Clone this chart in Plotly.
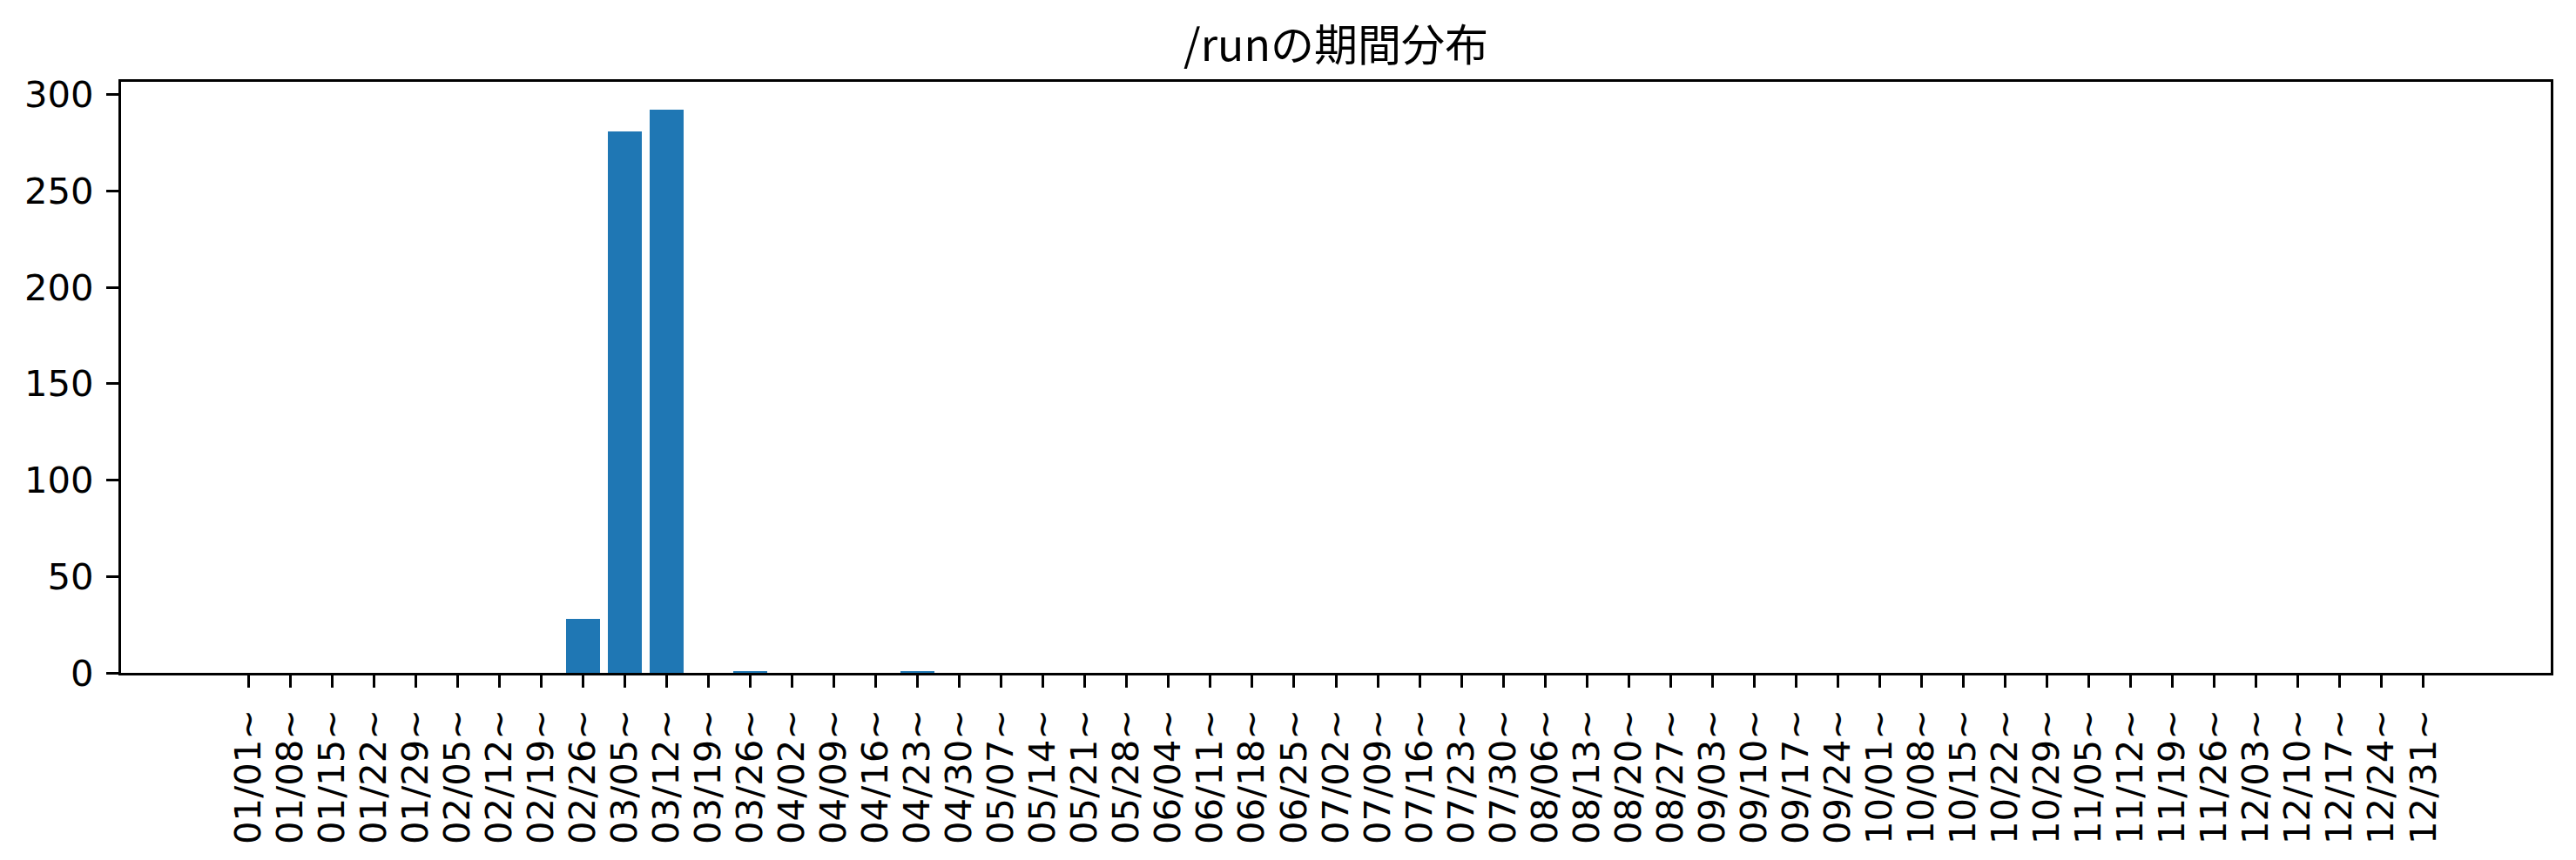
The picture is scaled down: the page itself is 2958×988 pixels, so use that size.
import plotly.graph_objects as go

week_labels = [
    "01/01~", "01/08~", "01/15~", "01/22~", "01/29~", "02/05~", "02/12~", "02/19~",
    "02/26~", "03/05~", "03/12~", "03/19~", "03/26~", "04/02~", "04/09~", "04/16~",
    "04/23~", "04/30~", "05/07~", "05/14~", "05/21~", "05/28~", "06/04~", "06/11~",
    "06/18~", "06/25~", "07/02~", "07/09~", "07/16~", "07/23~", "07/30~", "08/06~",
    "08/13~", "08/20~", "08/27~", "09/03~", "09/10~", "09/17~", "09/24~", "10/01~",
    "10/08~", "10/15~", "10/22~", "10/29~", "11/05~", "11/12~", "11/19~", "11/26~",
    "12/03~", "12/10~", "12/17~", "12/24~", "12/31~",
]
counts = [
    0, 0, 0, 0, 0, 0, 0, 0,
    28, 281, 292, 0, 1, 0, 0, 0,
    1, 0, 0, 0, 0, 0, 0, 0,
    0, 0, 0, 0, 0, 0, 0, 0,
    0, 0, 0, 0, 0, 0, 0, 0,
    0, 0, 0, 0, 0, 0, 0, 0,
    0, 0, 0, 0, 0,
]
y_ticks = [0, 50, 100, 150, 200, 250, 300]
title_text = "/runの期間分布"

W, H = 2958, 988
TICK_FONT = dict(family="DejaVu Sans", size=41.7, color="black")

fig = go.Figure(
    go.Bar(
        x=week_labels,
        y=counts,
        width=0.8,
        marker=dict(color="#1f77b4", line=dict(width=0)),
    )
)

n = len(week_labels)
pad = (n - 1 + 0.8) * 0.05
ymax = max(counts) * 1.05

fig.update_layout(
    width=W,
    height=H,
    margin=dict(l=139, r=29, t=94, b=215, pad=0),
    paper_bgcolor="white",
    plot_bgcolor="white",
    showlegend=False,
    bargap=0,
    title=dict(
        text=title_text,
        font=dict(family="Noto Sans CJK JP", size=50, color="black"),
        x=0.5,
        xref="paper",
        xanchor="center",
        y=1 - 52 / H,
        yref="container",
        yanchor="middle",
    ),
)

fig.update_xaxes(
    type="category",
    range=[-0.4 - pad, n - 1 + 0.4 + pad],
    tickmode="array",
    tickvals=week_labels,
    ticktext=week_labels,
    showgrid=False,
    zeroline=False,
    showline=True,
    mirror=True,
    linecolor="black",
    linewidth=3.3,
    ticks="outside",
    ticklen=14,
    tickwidth=3.3,
    tickcolor="black",
    tickangle=-90,
    tickfont=TICK_FONT,
    ticklabelstandoff=8,
)
fig.update_yaxes(
    range=[0, ymax],
    tickvals=y_ticks,
    ticktext=[str(v) for v in y_ticks],
    showgrid=False,
    zeroline=False,
    showline=True,
    mirror=True,
    linecolor="black",
    linewidth=3.3,
    ticks="outside",
    ticklen=14,
    tickwidth=3.3,
    tickcolor="black",
    tickfont=TICK_FONT,
    ticklabelstandoff=6,
)

fig.write_html("out.html")
